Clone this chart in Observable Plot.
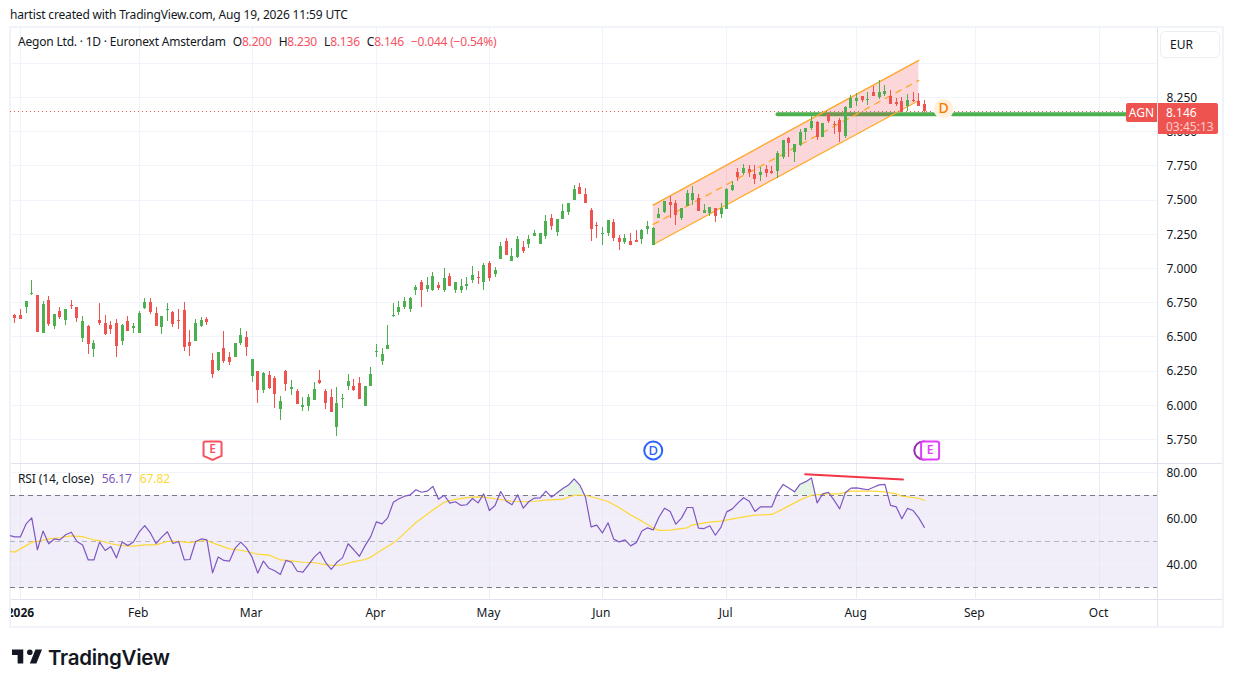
<!DOCTYPE html>
<html>
<head>
<meta charset="utf-8">
<script src="https://cdn.jsdelivr.net/npm/d3@7"></script>
<script src="https://cdn.jsdelivr.net/npm/@observablehq/plot@0.6"></script>
<style>
html,body{margin:0;padding:0;background:#fff;width:1233px;height:687px;overflow:hidden;font-family:"Noto Sans",sans-serif;color:#131722;}
.abs{position:absolute;white-space:nowrap;}
.v{color:#f7525f;}
svg{display:block;}
</style>
</head>
<body>
<div class="abs" style="left:10px;top:7px;font-size:12px;line-height:16px;letter-spacing:-.17px;">hartist created with TradingView.com, Aug 19, 2026 11:59 UTC</div>
<div class="abs" style="left:9px;top:26px;width:1211px;height:598px;border:2px solid #f0f3fa;"></div>
<div id="main" class="abs" style="left:0;top:28px;"></div>
<div id="rsi" class="abs" style="left:0;top:464px;"></div>
<div class="abs" style="left:0;top:598px;width:9px;height:28px;background:#fff;"></div>
<div class="abs" style="left:9px;top:598px;width:2px;height:28px;background:#f0f3fa;"></div>
<div class="abs" style="left:11px;top:463px;width:1211px;height:1px;background:#e0e3eb;"></div>
<div class="abs" style="left:11px;top:599px;width:1211px;height:1px;background:#e0e3eb;"></div>
<div class="abs" style="left:1157px;top:28px;width:1px;height:598px;background:#e0e3eb;"></div>
<div class="abs" style="left:18px;top:33px;font-size:12px;line-height:18px;letter-spacing:-.2px;">Aegon Ltd. · 1D · Euronext Amsterdam<span style="margin-left:7px">O</span><span class="v">8.200</span><span style="margin-left:7px">H</span><span class="v">8.230</span><span style="margin-left:7px">L</span><span class="v">8.136</span><span style="margin-left:7px">C</span><span class="v">8.146</span><span class="v" style="margin-left:7px">−0.044 (−0.54%)</span></div>
<div class="abs" style="left:18px;top:470px;font-size:12px;line-height:18px;letter-spacing:-.1px;">RSI (14, close)<span style="margin-left:8px;color:#7e57c2">56.17</span><span style="margin-left:8px;color:#fdd835">67.82</span></div>
<div class="abs" style="left:1160px;top:31px;width:58px;height:25px;border:1px solid #eceef2;border-radius:5px;font-size:12px;line-height:25px;text-indent:9px;background:#fff;">EUR</div>
<div class="abs" style="left:1126px;top:103px;width:31px;height:19px;background:#ef5350;color:#fff;font-size:12px;line-height:19px;text-align:center;border-radius:2px 0 0 2px;">AGN</div>
<div class="abs" style="left:1158px;top:103px;width:60px;height:31px;background:#ef5350;color:#fff;font-size:12px;line-height:14px;border-radius:0 2px 2px 0;"><div style="margin:3px 0 0 8px;">8.146</div><div style="margin:0 0 0 8px;opacity:.7;">03:45:13</div></div>
<svg class="abs" style="left:12px;top:649px;" width="30" height="15" viewBox="2 6 32 15"><path fill="#131722" d="M14 6H2v6h6v9h6V6zm14 15h-7l6-15h7l-6 15zm-7-9a3 3 0 1 0 0-6 3 3 0 0 0 0 6z"/></svg>
<div class="abs" style="left:48px;top:644px;font-family:Inter,sans-serif;font-weight:600;font-size:20.5px;line-height:27px;letter-spacing:-.3px;color:#131722;">TradingView</div>
<script>
const open = [
6.656,6.656,6.715,6.807,6.802,6.524,6.766,6.576,6.685,6.620,
6.729,6.715,6.488,6.576,6.408,6.620,6.598,6.583,6.598,6.466,
6.612,6.561,6.524,6.707,6.751,6.671,6.568,6.693,6.678,6.620,
6.693,6.459,6.466,6.576,6.627,6.327,6.254,6.415,6.349,6.349,
6.451,6.495,6.210,6.247,6.108,6.217,6.196,5.969,6.247,6.115,
6.101,5.984,5.991,6.035,6.181,6.101,6.057,5.837,6.042,6.137,
6.137,6.159,5.991,6.137,6.386,6.320,6.408,6.649,6.678,6.715,
6.700,6.839,6.897,6.846,6.839,6.875,6.839,6.941,6.839,6.839,
6.868,6.912,6.934,6.897,7.036,6.956,7.065,7.197,7.051,7.080,
7.153,7.175,7.234,7.175,7.234,7.365,7.263,7.358,7.409,7.497,
7.592,7.541,7.424,7.314,7.248,7.255,7.336,7.219,7.190,7.197,
7.204,7.212,7.285,7.168,7.366,7.410,7.483,7.476,7.366,7.454,
7.498,7.512,7.402,7.402,7.439,7.395,7.432,7.571,7.702,7.695,
7.724,7.688,7.680,7.724,7.710,7.710,7.812,7.951,7.848,7.900,
7.995,8.024,8.068,7.958,8.126,8.053,8.082,7.965,8.170,8.221,
8.258,8.229,8.287,8.250,8.272,8.258,8.214,8.221,8.185,8.229,
8.221,8.200];
const high = [
6.663,6.700,6.758,6.912,6.802,6.758,6.795,6.663,6.715,6.700,
6.766,6.715,6.649,6.583,6.473,6.744,6.656,6.612,6.627,6.590,
6.649,6.598,6.685,6.780,6.780,6.715,6.649,6.744,6.685,6.700,
6.751,6.546,6.627,6.641,6.641,6.378,6.386,6.539,6.386,6.451,
6.561,6.539,6.334,6.247,6.239,6.247,6.210,6.064,6.254,6.181,
6.115,6.057,6.079,6.166,6.254,6.115,6.115,6.130,6.079,6.225,
6.188,6.203,6.137,6.276,6.444,6.415,6.583,6.744,6.758,6.788,
6.788,6.875,6.912,6.934,6.970,6.897,7.000,6.963,6.897,6.919,
6.934,7.014,6.978,7.036,7.051,7.007,7.190,7.219,7.146,7.234,
7.197,7.241,7.277,7.255,7.387,7.394,7.358,7.467,7.475,7.606,
7.621,7.584,7.438,7.336,7.299,7.351,7.358,7.241,7.248,7.255,
7.277,7.285,7.343,7.299,7.439,7.490,7.527,7.498,7.439,7.571,
7.600,7.541,7.468,7.446,7.439,7.476,7.585,7.636,7.731,7.761,
7.753,7.753,7.739,7.753,7.746,7.856,7.936,7.958,7.907,8.017,
8.024,8.112,8.075,8.060,8.126,8.075,8.097,8.185,8.265,8.280,
8.258,8.287,8.331,8.375,8.338,8.302,8.243,8.250,8.272,8.287,
8.280,8.230];
const low = [
6.600,6.627,6.673,6.802,6.532,6.524,6.576,6.554,6.627,6.583,
6.700,6.605,6.459,6.371,6.349,6.583,6.510,6.517,6.349,6.437,
6.539,6.524,6.524,6.700,6.663,6.576,6.517,6.612,6.568,6.554,
6.393,6.356,6.466,6.568,6.583,6.196,6.247,6.305,6.291,6.349,
6.437,6.356,6.166,6.013,6.086,6.115,5.976,5.889,6.101,6.071,
6.005,5.954,5.954,6.035,6.152,5.969,5.947,5.772,5.976,6.108,
6.101,6.042,5.991,6.137,6.349,6.291,6.408,6.641,6.656,6.700,
6.678,6.802,6.715,6.824,6.832,6.839,6.824,6.868,6.817,6.817,
6.839,6.890,6.883,6.839,6.905,6.934,7.065,7.095,7.051,7.073,
7.109,7.146,7.234,7.175,7.212,7.277,7.234,7.358,7.387,7.497,
7.541,7.475,7.197,7.219,7.168,7.234,7.197,7.131,7.175,7.168,
7.190,7.175,7.248,7.168,7.366,7.402,7.366,7.315,7.351,7.454,
7.461,7.417,7.402,7.381,7.337,7.366,7.432,7.563,7.636,7.680,
7.666,7.614,7.636,7.666,7.688,7.658,7.797,7.812,7.775,7.892,
7.936,8.009,7.936,7.958,8.060,7.980,7.921,7.951,8.170,8.185,
8.214,8.192,8.258,8.236,8.258,8.199,8.185,8.141,8.148,8.214,
8.185,8.136];
const close = [
6.634,6.627,6.758,6.817,6.532,6.736,6.590,6.663,6.641,6.700,
6.722,6.634,6.612,6.444,6.451,6.598,6.517,6.554,6.429,6.583,
6.539,6.576,6.671,6.751,6.678,6.576,6.649,6.700,6.590,6.612,
6.422,6.429,6.598,6.620,6.605,6.225,6.386,6.320,6.312,6.451,
6.510,6.422,6.334,6.108,6.232,6.122,6.079,6.027,6.152,6.130,
6.005,5.998,6.057,6.115,6.159,6.013,5.947,6.013,6.049,6.174,
6.108,6.042,6.137,6.225,6.393,6.371,6.437,6.656,6.715,6.758,
6.780,6.861,6.839,6.875,6.941,6.853,6.927,6.868,6.897,6.868,
6.883,6.948,6.927,7.022,6.927,6.985,7.160,7.095,7.087,7.212,
7.124,7.212,7.255,7.255,7.343,7.307,7.358,7.416,7.475,7.577,
7.541,7.475,7.285,7.307,7.255,7.351,7.219,7.190,7.219,7.168,
7.190,7.277,7.307,7.292,7.395,7.490,7.461,7.388,7.439,7.549,
7.549,7.417,7.424,7.446,7.381,7.439,7.578,7.607,7.666,7.731,
7.702,7.651,7.702,7.695,7.695,7.841,7.936,7.914,7.907,7.995,
8.024,8.075,7.958,8.060,8.075,8.046,7.995,8.177,8.243,8.243,
8.229,8.236,8.258,8.287,8.294,8.199,8.199,8.141,8.229,8.221,
8.185,8.146];
// RSI, first value is one bar before the first candle
const rsiValues = [
52.7,52.1,52.1,57.7,60.3,46.5,54.6,49.1,51.2,50.8,
53.0,54.1,50.1,48.6,42.1,42.1,49.8,46.2,47.9,43.0,
49.9,48.3,49.9,54.1,57.0,53.8,49.2,52.0,54.3,49.2,
50.1,42.1,42.3,50.1,51.2,50.8,36.5,43.4,41.9,41.6,
47.2,49.8,47.3,43.3,36.4,41.6,38.5,37.4,35.8,41.9,
41.1,37.2,36.8,40.1,43.3,45.6,41.1,38.0,41.1,43.0,
49.1,46.5,43.7,48.3,52.2,58.6,57.7,60.3,67.1,68.6,
69.7,70.3,72.5,71.4,71.9,73.9,68.4,70.1,66.7,67.3,
65.7,66.0,68.7,66.8,70.7,63.5,65.7,71.7,67.5,66.0,
70.3,64.5,67.4,68.9,69.0,71.9,69.3,71.2,73.0,74.5,
77.2,74.5,69.3,56.4,57.2,53.8,58.2,51.1,49.9,50.8,
48.2,49.6,54.6,56.0,55.1,60.6,64.5,63.1,57.6,60.2,
64.8,64.8,55.9,55.7,56.9,52.8,56.3,62.9,64.2,66.8,
69.0,67.5,63.1,65.1,65.1,65.1,71.2,74.8,73.2,71.6,
74.9,76.0,77.6,66.8,70.7,71.4,68.0,64.2,71.2,73.2,
73.3,72.9,72.5,73.6,74.6,74.8,65.7,65.1,59.9,64.4,
63.5,60.3,56.17];
const maBars = [-1,0,1,2,3,4,6,8,10,12,13,14,15,17,19,21,23,25,27,29,31,33,34,36,38,40,42,43,45,47,49,51,53,55,56.5,58,60,62,63,65,67,69,71,74,76,78,80,82,83,85,88,90,92,94,97,99,101,103,105,107,109,111,113,114,116,119,120,123,125,128,131,134,136,139,141,144,146,148,152,154,156,157,160,161];
const maValues = [45.9,45.5,46.9,48.3,49.8,50.1,51.2,51.7,52.5,52.2,51.5,50.8,50.5,49.1,48.3,48.1,48.6,48.6,50.1,50.1,49.6,50.4,50.4,48.6,46.9,46.3,45.2,44.6,44.2,42.1,41.7,41.1,40.9,40.1,39.7,40.0,41.4,42.3,43.3,46.5,49.4,53.7,58.3,63.7,67.1,68.3,69.1,69.4,69.3,68.6,67.5,67.3,67.5,68.0,68.4,70.1,70.1,68.8,67.4,64.7,61.6,58.9,55.9,54.9,55.0,56.0,57.3,58.5,58.9,60.3,61.5,61.8,64.2,68.1,70.1,70.7,70.7,71.9,71.9,71.6,70.7,69.7,68.8,67.82];

const priceTicks = [5.75,6,6.25,6.5,6.75,7,7.25,7.5,7.75,8,8.25];
const priceGrid = [...priceTicks,8.5];
const rsiTicks = [40,60,80];
const monthBars = [22,42,64,84,104,126,149,170,192];
const monthLabels = ["Feb","Mar","Apr","May","Jun","Jul","Aug","Sep","Oct"];
const yearBar = 1;
const yearLabel = "2026";

const channelBars = [113,160];
const channelUpper = [7.463,8.521];
const channelMiddle = [7.322,8.375];
const channelLower = [7.175,8.228];
const supportLevel = 8.128;
const supportSpans = [[135,163.2],[166,196.7]];
const lastClose = 8.146;
const divergenceBars = [139.9,157.2];
const divergenceRsi = [79.2,76.9];
const overboughtZones = [[96,101],[138,142]];

const GREEN="#4caf50", RED="#ef5350", GRID="#f0f3fa", FONT='"Noto Sans",sans-serif';
const candles = open.map((o,i)=>({i,open:o,high:high[i],low:low[i],close:close[i]}));
const up = candles.filter(d=>d.close>=d.open), down = candles.filter(d=>d.close<d.open);
const rsiData = rsiValues.map((v,k)=>({i:k-1,v}));
const maData = maValues.map((v,k)=>({i:maBars[k],v}));
const channel = channelBars.map((i,k)=>({i,u:channelUpper[k],m:channelMiddle[k],l:channelLower[k]}));
const allGrid = [yearBar,...monthBars];
const labelOf = new Map(monthBars.map((b,k)=>[b,monthLabels[k]]));
const xScale = {type:"linear",domain:[-0.761,202.25],range:[10,1157],axis:null};

const rad = s => Math.sqrt(s/Math.PI);
const roundSquare = {draw(c,s){const r=rad(s),q=r*0.25;c.moveTo(-r+q,-r);c.lineTo(r-q,-r);c.arcTo(r,-r,r,-r+q,q);c.lineTo(r,r-q);c.arcTo(r,r,r-q,r,q);c.lineTo(-r+q,r);c.arcTo(-r,r,-r,r-q,q);c.lineTo(-r,-r+q);c.arcTo(-r,-r,-r+q,-r,q);c.closePath();}};
const shield = {draw(c,s){const r=rad(s),q=r*0.2;c.moveTo(-r+q,-r);c.lineTo(r-q,-r);c.arcTo(r,-r,r,-r+q,q);c.lineTo(r,r*0.6);c.lineTo(0,r*1.05);c.lineTo(-r,r*0.6);c.lineTo(-r,-r+q);c.arcTo(-r,-r,-r+q,-r,q);c.closePath();}};
const crisp = {shapeRendering:"crispEdges"};

const candleMarks = (rows,color)=>[
  Plot.ruleX(rows,{x:"i",y1:"low",y2:"high",stroke:color,strokeWidth:1,...crisp}),
  Plot.ruleX(rows,{x:"i",y1:"open",y2:"close",stroke:color,strokeWidth:3,...crisp})
];

const mainPlot = Plot.plot({
  width:1233,height:435,marginTop:0,marginBottom:0,marginLeft:10,marginRight:76,
  style:{background:"transparent",fontFamily:FONT,fontSize:"12px",color:"#131722",overflow:"visible"},
  x:xScale,
  y:{type:"linear",domain:[5.5746,8.754],range:[435,0],axis:null},
  marks:[
    Plot.gridX(allGrid,{stroke:GRID,strokeOpacity:1,...crisp}),
    Plot.gridY(priceGrid,{stroke:GRID,strokeOpacity:1,...crisp}),
    ...supportSpans.map(s=>Plot.lineY(s.map(i=>({i,v:supportLevel})),{x:"i",y:"v",stroke:GREEN,strokeWidth:4,strokeLinecap:"round"})),
    Plot.areaY(channel,{x:"i",y1:"l",y2:"u",fill:"#f23645",fillOpacity:.2}),
    Plot.lineY(channel,{x:"i",y:"u",stroke:"#ffa726",strokeWidth:1.3}),
    Plot.lineY(channel,{x:"i",y:"l",stroke:"#ffa726",strokeWidth:1.3}),
    Plot.lineY(channel,{x:"i",y:"m",stroke:"#ffa726",strokeWidth:1.3,strokeDasharray:"6 6"}),
    ...candleMarks(up,GREEN),
    ...candleMarks(down,RED),
    Plot.ruleY([lastClose],{stroke:"#ef5350",strokeDasharray:"1 3",...crisp}),
    Plot.dot([{i:164.4,p:8.17}],{x:"i",y:"p",r:10,fill:"#fff0dc",stroke:"#fff",strokeWidth:1}),
    Plot.text([{i:164.4,p:8.17}],{x:"i",y:"p",text:()=>"D",fill:"#f57c00",fontSize:14,fontWeight:500}),
    Plot.dot([{i:35,p:5.67}],{x:"i",y:"p",symbol:shield,r:9,fill:"#fff",stroke:"#f7525f",strokeWidth:2}),
    Plot.text([{i:35,p:5.68}],{x:"i",y:"p",text:()=>"E",fill:"#f7525f",fontSize:12,fontWeight:600}),
    Plot.dot([{i:113,p:5.67}],{x:"i",y:"p",r:9,fill:"#fff",stroke:"#2962ff",strokeWidth:2}),
    Plot.text([{i:113,p:5.67}],{x:"i",y:"p",text:()=>"D",fill:"#2962ff",fontSize:13,fontWeight:500}),
    Plot.dot([{i:160.8,p:5.67}],{x:"i",y:"p",r:9,fill:"#fff",stroke:"#9c27b0",strokeWidth:2}),
    Plot.dot([{i:162,p:5.67}],{x:"i",y:"p",symbol:roundSquare,r:9,fill:"#fff",stroke:"#e040fb",strokeWidth:2}),
    Plot.text([{i:162,p:5.67}],{x:"i",y:"p",text:()=>"E",fill:"#e040fb",fontSize:12,fontWeight:600}),
    Plot.axisY(priceTicks,{anchor:"right",tickSize:0,tickPadding:9,dy:.5,tickFormat:d3.format(".3f"),label:null,fill:"#131722"})
  ]
});
document.getElementById("main").append(mainPlot);

const rsiPlot = Plot.plot({
  width:1233,height:162,marginTop:0,marginBottom:28,marginLeft:10,marginRight:76,
  style:{background:"transparent",fontFamily:FONT,fontSize:"12px",color:"#131722",overflow:"visible"},
  x:xScale,
  y:{type:"linear",domain:[25.41,83.42],range:[134,0],axis:null},
  marks:[
    Plot.rectY([0],{x1:-0.761,x2:202.25,y1:30,y2:70,fill:"#7e57c2",fillOpacity:.1}),
    Plot.gridX(allGrid,{stroke:"#e6e6ef",strokeOpacity:.8,...crisp}),
    Plot.gridY(rsiTicks,{stroke:GRID,strokeOpacity:1,...crisp}),
    Plot.ruleY([70,30],{stroke:"#787b86",strokeDasharray:"5 4",...crisp}),
    Plot.ruleY([50],{stroke:"#787b86",strokeOpacity:.5,strokeDasharray:"5 4",...crisp}),
    ...overboughtZones.map(z=>Plot.areaY(rsiData.filter(d=>d.i>=z[0]&&d.i<=z[1]),{x:"i",y1:()=>70,y2:d=>Math.max(d.v,70),fill:"#4caf50",fillOpacity:.14})),
    Plot.line(maData,{x:"i",y:"v",stroke:"#fdd835",strokeWidth:1.2,clip:true}),
    Plot.line(rsiData,{x:"i",y:"v",stroke:"#7e57c2",strokeWidth:1.2,clip:true}),
    Plot.line(divergenceBars.map((i,k)=>({i,v:divergenceRsi[k]})),{x:"i",y:"v",stroke:"#f23645",strokeWidth:2}),
    Plot.axisY(rsiTicks,{anchor:"right",tickSize:0,tickPadding:9,dy:.5,tickFormat:d3.format(".2f"),label:null,fill:"#131722"}),
    Plot.axisX(monthBars,{anchor:"bottom",tickSize:0,tickPadding:10,dx:-1,tickFormat:d=>labelOf.get(d),label:null,fill:"#131722"}),
    Plot.axisX([yearBar],{anchor:"bottom",tickSize:0,tickPadding:10,tickFormat:()=>yearLabel,label:null,fill:"#131722",fontWeight:"bold"})
  ]
});
document.getElementById("rsi").append(rsiPlot);
</script>
</body>
</html>
